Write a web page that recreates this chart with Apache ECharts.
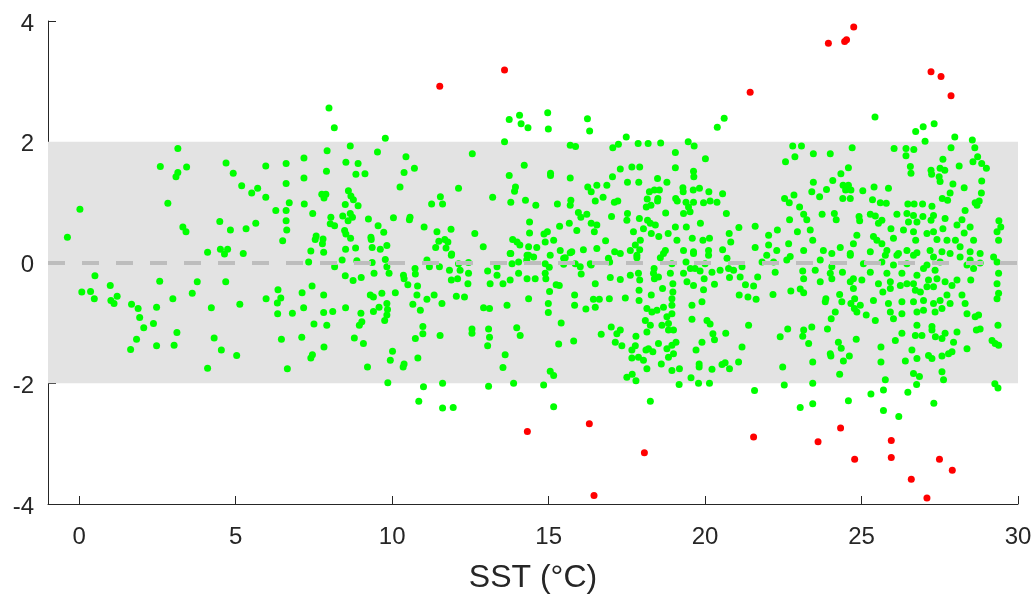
<!DOCTYPE html>
<html>
<head>
<meta charset="utf-8">
<script src="https://cdn.jsdelivr.net/npm/echarts@6/dist/echarts.min.js"></script>
<style>
  html, body { margin: 0; padding: 0; background: #fff; }
  #chart { width: 1034px; height: 598px; }
</style>
</head>
<body>
<div id="chart"></div>
<script>
// SST (°C), residual pairs inside the +-2.6 range (green)
var inRange = [
  [3.15,1.89],[2.59,1.59],[3.43,1.58],[3.15,1.49],[3.09,1.42],[4.69,1.65],[4.92,1.48],[5.96,1.60],[6.61,1.64],[5.19,1.27],
  [5.51,1.15],[5.70,1.23],[5.96,1.08],[6.61,1.31],[6.71,0.99],[2.83,0.98],[0.02,0.88],[-0.38,0.42],[6.28,0.86],[6.61,0.86],
  [6.61,0.69],[6.63,0.54],[6.50,0.36],[4.49,0.68],[4.83,0.54],[5.33,0.56],[5.64,0.65],[3.31,0.59],[3.41,0.51],[4.10,0.17],
  [4.51,0.22],[4.74,0.22],[4.64,0.14],[5.24,0.15],
  [0.50,-0.22],[0.08,-0.49],[0.36,-0.48],[0.48,-0.60],[0.99,-0.38],[1.01,-0.63],[1.21,-0.56],[1.11,-0.68],[1.67,-0.69],[1.88,-0.76],
  [1.93,-0.91],[2.06,-1.08],[2.37,-1.01],[1.83,-1.27],[1.64,-1.44],[2.47,-1.38],[2.47,-0.74],[2.57,-0.31],[2.99,-0.60],[3.12,-1.16],
  [3.03,-1.37],[3.61,-0.51],[3.77,-0.32],[4.22,-0.75],[4.31,-1.25],[4.54,-1.45],[5.03,-1.54],[4.10,-1.75],[4.68,-0.32],[5.13,-0.69],
  [5.97,-0.60],[6.35,-0.45],[6.44,-0.59],[6.33,-0.67],[6.34,-0.85],[6.46,-1.27],[6.65,-1.76],
  [7.98,2.56],[8.15,2.23],[9.78,2.06],[13.74,2.37],[14.07,2.44],[14.12,2.30],[14.34,2.23],[13.59,2.00],[7.18,1.73],[7.18,1.40],
  [7.92,1.85],[7.90,1.51],[8.66,1.93],[8.52,1.66],[8.91,1.64],[8.84,1.46],[9.13,1.47],[9.53,1.83],[10.44,1.75],[10.38,1.49],
  [10.71,1.56],[10.25,1.25],[12.56,1.80],[12.12,1.23],[13.21,1.08],[13.74,1.44],[13.94,1.25],[13.91,1.18],[14.22,1.61],[13.79,1.00],
  [14.26,1.03],[11.54,1.09],[11.26,0.97],[11.61,0.97],[7.75,1.13],[7.88,1.13],[7.82,1.07],[8.60,1.19],[8.68,1.10],[8.76,1.04],
  [8.91,0.94],[8.50,0.96],[7.19,0.97],[7.46,0.81],[8.04,0.75],[8.42,0.77],[8.66,0.81],[8.59,0.69],[8.73,0.75],[8.02,0.64],
  [8.16,0.61],[8.48,0.53],[9.24,0.72],[9.55,0.61],[10.04,0.74],[10.57,0.75],[10.55,0.71],[11.02,0.59],[9.73,0.50],[9.32,0.42],
  [8.52,0.47],[8.67,0.40],[7.57,0.44],[7.79,0.39],[7.77,0.31],[7.54,0.38],[7.40,0.19],[7.81,0.17],[8.51,0.22],[8.83,0.24],
  [9.33,0.38],[9.36,0.25],[9.62,0.22],[9.83,0.28],[11.43,0.51],[11.88,0.55],[11.68,0.38],[11.78,0.34],[11.49,0.35],[11.39,0.25],
  [11.72,0.24],[11.90,0.14],[12.64,0.48],[12.91,0.26],[13.85,0.38],[13.99,0.34],[14.08,0.29],[13.79,0.15],[14.39,0.67],[14.39,0.49],
  [14.36,0.12],
  [14.97,2.48],[14.99,2.21],[16.24,2.38],[16.31,2.18],[17.48,2.08],[20.39,2.24],[20.61,2.39],[15.69,1.94],[15.86,1.92],[17.05,1.90],
  [17.23,1.96],[17.86,1.97],[18.18,1.97],[18.58,1.98],[19.46,2.00],[19.65,1.93],[19.05,1.82],[20.01,1.72],[15.06,1.48],[15.06,1.44],
  [15.69,1.40],[17.29,1.55],[17.66,1.58],[17.91,1.58],[17.04,1.42],[17.52,1.33],[17.88,1.33],[18.48,1.39],[18.78,1.33],[19.05,1.57],
  [19.63,1.51],[19.64,1.42],[16.25,1.25],[16.54,1.28],[16.36,1.17],[16.86,1.28],[18.22,1.17],[18.38,1.20],[18.54,1.20],[19.29,1.24],
  [19.30,1.17],[19.62,1.20],[19.82,1.23],[20.12,1.17],[20.56,1.14],[14.59,0.95],[15.28,0.97],[15.71,1.03],[15.69,0.95],[16.49,1.02],
  [16.74,1.08],[17.10,1.00],[17.21,1.02],[18.15,1.05],[18.12,0.92],[18.27,0.95],[18.49,1.06],[18.48,1.02],[19.06,1.06],[19.11,1.02],
  [19.39,1.00],[19.47,0.92],[19.63,1.00],[19.95,0.99],[20.16,1.02],[20.38,1.00],[15.95,0.83],[16.22,0.80],[16.03,0.75],[17.52,0.81],
  [17.01,0.76],[17.90,0.73],[18.74,0.82],[19.31,0.81],[19.52,0.84],[20.68,0.81],[15.35,0.60],[15.66,0.65],[16.36,0.65],[16.54,0.62],
  [17.50,0.70],[18.16,0.70],[18.25,0.65],[18.41,0.62],[18.03,0.56],[19.05,0.59],[19.40,0.59],[19.85,0.65],[21.08,0.58],[21.60,0.60],
  [14.96,0.51],[14.85,0.47],[15.90,0.53],[16.46,0.51],[16.82,0.36],[15.16,0.37],[14.89,0.34],[17.71,0.51],[17.93,0.37],[17.77,0.29],
  [18.28,0.48],[18.52,0.43],[18.82,0.48],[19.10,0.37],[19.59,0.40],[19.93,0.37],[20.14,0.40],[20.77,0.48],[20.82,0.34],[22.03,0.45],
  [21.60,0.25],[14.36,0.26],[14.62,0.25],[15.37,0.20],[15.74,0.18],[16.11,0.21],[16.54,0.23],[17.11,0.18],[17.61,0.20],[17.91,0.21],
  [18.73,0.20],[19.31,0.20],[19.63,0.18],[20.11,0.20],[20.56,0.21],[15.53,0.08],[16.91,0.07],[17.82,0.08],[18.57,0.08],
  [25.43,2.41],[26.73,2.17],[26.97,2.25],[27.32,2.30],[27.98,2.08],[27.03,2.01],[28.54,2.03],[22.80,1.93],[23.08,1.93],[22.87,1.75],
  [22.57,1.67],[23.46,1.80],[24.00,1.80],[24.70,1.90],[26.04,1.89],[26.42,1.89],[26.67,1.87],[26.42,1.77],[27.86,1.90],[28.62,1.90],
  [27.60,1.71],[28.56,1.67],[28.71,1.75],[28.84,1.64],[28.99,1.56],[28.12,1.60],[26.56,1.59],[26.58,1.48],[27.22,1.53],[27.24,1.46],
  [27.51,1.56],[27.66,1.53],[24.58,1.57],[24.34,1.47],[24.08,1.36],[23.46,1.33],[28.84,1.35],[27.48,1.42],[27.51,1.34],[27.92,1.30],
  [28.28,1.24],[28.83,1.15],[24.41,1.28],[24.58,1.28],[24.49,1.20],[24.66,1.20],[23.88,1.21],[23.41,1.17],[25.40,1.25],[25.86,1.23],
  [25.04,1.19],[27.83,1.15],[22.84,1.12],[23.66,1.09],[24.40,1.06],[24.64,1.06],[22.54,1.06],[22.69,0.99],[23.02,0.92],[25.35,1.04],
  [25.60,0.99],[25.79,0.98],[26.48,0.97],[26.68,0.97],[26.95,0.97],[27.25,0.93],[27.58,1.06],[27.75,1.03],[28.63,0.99],[28.76,1.02],
  [28.69,0.95],[28.31,0.86],[23.15,0.80],[23.74,0.80],[24.13,0.81],[24.19,0.71],[23.25,0.71],[22.70,0.71],[24.92,0.76],[24.94,0.69],
  [25.28,0.80],[25.44,0.77],[25.65,0.70],[25.54,0.65],[26.13,0.80],[26.45,0.81],[26.66,0.78],[26.96,0.76],[27.30,0.78],[26.50,0.67],
  [26.77,0.67],[27.22,0.70],[27.67,0.73],[27.60,0.56],[28.21,0.71],[28.05,0.62],[28.47,0.59],[29.39,0.69],[29.45,0.59],[29.33,0.51],
  [22.31,0.54],[22.95,0.51],[23.36,0.54],[23.44,0.37],[22.67,0.31],[23.78,0.20],[24.32,0.25],[24.85,0.45],[24.74,0.31],[25.38,0.43],
  [25.49,0.37],[25.65,0.31],[25.94,0.56],[26.02,0.40],[26.34,0.54],[26.66,0.51],[26.73,0.37],[27.09,0.48],[27.30,0.51],[27.41,0.38],
  [27.73,0.37],[28.00,0.37],[28.28,0.49],[28.58,0.37],[29.38,0.37],[22.03,0.29],[22.29,0.20],[23.15,0.20],[24.05,0.15],[24.64,0.15],
  [25.28,0.18],[25.81,0.20],[26.13,0.12],[26.45,0.20],[26.77,0.16],[27.19,0.20],[27.57,0.18],[28.15,0.26],[28.47,0.18],[29.22,0.09],
  [21.97,0.12],[22.72,0.10],
  [7.33,0.01],[8.16,-0.07],[8.40,0.04],[8.87,0.03],[9.36,0.00],[9.78,0.05],[9.83,-0.07],[8.50,-0.22],[8.75,-0.30],[9.01,-0.25],
  [9.42,-0.18],[9.90,-0.18],[10.36,-0.21],[10.38,-0.27],[10.73,-0.10],[10.74,-0.19],[11.11,0.04],[11.19,-0.07],[11.51,-0.07],[11.89,0.12],
  [11.83,-0.13],[12.12,-0.02],[12.17,-0.13],[12.09,-0.27],[11.89,-0.29],[12.44,0.00],[12.44,-0.18],[12.42,-0.35],[13.05,-0.14],[13.35,-0.07],
  [13.77,0.15],[13.83,-0.02],[14.04,0.01],[14.31,0.12],[14.31,-0.27],[14.04,-0.18],[13.54,-0.35],[13.77,-0.29],[13.35,-0.21],[13.13,-0.35],
  [10.50,-0.37],[10.81,-0.39],[7.44,-0.39],[7.12,-0.50],[7.81,-0.54],[7.17,-0.75],[6.81,-0.84],[7.11,-1.24],[7.50,-1.02],[7.91,-1.04],
  [7.81,-0.83],[8.10,-0.81],[8.51,-0.75],[7.82,-1.40],[7.45,-1.53],[7.40,-1.58],[8.79,-1.25],[9.08,-1.34],[9.21,-1.73],[8.95,-1.04],
  [9.03,-0.98],[9.00,-0.84],[9.30,-0.54],[9.40,-0.57],[9.67,-0.51],[10.10,-0.50],[9.40,-0.81],[9.58,-0.74],[9.83,-0.68],[9.85,-0.78],
  [9.83,-0.87],[9.76,-0.96],[10.01,-1.47],[9.94,-1.62],[10.38,-1.68],[10.35,-1.73],[9.86,-1.99],[10.82,-1.58],[10.74,-1.26],[10.98,-1.18],
  [10.98,-1.06],[10.66,-0.69],[10.79,-0.54],[10.90,-0.79],[11.11,-0.61],[11.34,-0.54],[11.59,-0.68],[11.53,-1.21],[12.05,-0.56],[12.31,-0.57],
  [12.92,-0.75],[13.11,-0.76],[12.55,-1.10],[12.55,-1.17],[13.08,-1.10],[13.11,-1.24],[13.05,-1.38],[13.67,-0.71],[13.98,-1.08],[14.09,-1.21],
  [13.61,-1.53],[13.54,-1.74],[13.88,-2.00],[13.08,-2.05],[11.61,-2.00],[11.00,-2.06],[10.85,-2.30],[11.61,-2.41],[11.95,-2.40],[14.36,-0.60],
  [14.84,-2.03],[15.16,-2.39],[18.25,-2.30],[19.17,-2.02],[19.55,-1.91],[19.79,-2.00],[20.14,-2.00],[21.58,-2.12],[17.50,-1.90],[17.67,-1.85],
  [17.79,-1.96],[15.05,-1.80],[15.16,-1.87],[15.32,-1.35],[15.80,-1.30],[15.40,-1.00],[14.99,-0.83],[14.99,-0.68],[15.03,-0.48],[15.83,-0.54],
  [15.83,-0.71],[16.19,-0.77],[16.43,-0.61],[16.49,-0.74],[16.62,-0.61],[16.94,-0.60],[17.45,-0.59],[17.89,-0.63],[18.28,-0.54],[16.68,-1.19],
  [17.00,-1.07],[17.18,-1.18],[17.13,-1.32],[17.34,-1.38],[17.79,-1.22],[17.77,-1.38],[17.66,-1.45],[17.66,-1.58],[17.87,-1.57],[18.03,-1.62],
  [18.14,-1.76],[18.11,-1.45],[18.19,-1.43],[18.33,-1.48],[18.51,-1.34],[18.60,-1.68],[18.78,-1.43],[18.83,-1.57],[18.94,-1.37],[18.99,-1.51],
  [19.07,-1.32],[18.94,-1.79],[19.18,-1.76],[18.14,-1.15],[18.25,-1.04],[18.09,-0.96],[18.30,-0.82],[18.14,-0.76],[18.46,-0.79],[18.67,-0.74],
  [18.78,-0.90],[18.94,-0.85],[18.83,-1.01],[18.62,-1.04],[18.83,-1.12],[18.99,-1.12],[18.94,-0.71],[18.94,-0.60],[18.97,-0.49],[18.97,-0.35],
  [18.89,-0.18],[18.64,-0.43],[18.51,-0.24],[18.37,-0.10],[18.38,-0.27],[17.87,-0.18],[17.91,-0.29],[17.89,-0.46],[17.61,-0.21],[17.29,-0.28],
  [16.97,-0.25],[16.95,0.01],[16.49,-0.35],[16.36,-0.04],[16.04,-0.19],[15.85,-0.02],[15.48,-0.03],[15.34,-0.38],[15.02,-0.08],[14.91,-0.27],
  [14.57,-0.27],[14.52,0.09],[15.05,0.12],[19.42,-0.32],[19.31,-0.18],[19.63,-0.38],[19.58,-0.71],[19.58,-0.94],[19.90,-0.65],[19.95,-0.45],
  [20.06,-0.96],[20.16,-1.02],[20.25,-1.18],[20.30,-1.28],[19.90,-1.32],[19.71,-1.45],[19.81,-1.68],[19.81,-1.73],[20.22,-1.77],[20.54,-1.69],
  [20.64,-1.66],[20.78,-1.76],[21.07,-1.65],[21.18,-1.40],[20.66,-1.17],[21.39,-1.04],[21.09,-0.54],[21.37,-0.57],[21.63,-0.61],[21.55,-0.39],
  [21.68,-0.24],[21.29,-0.37],[21.12,-0.24],[20.78,-0.25],[20.75,-0.10],[20.70,0.07],[20.30,-0.36],[19.97,-0.27],[19.84,-0.14],[19.68,-0.10],
  [19.53,-0.10],[20.00,-0.02],[20.22,-0.16],[19.39,0.01],[19.63,0.15],[20.11,0.12],[20.48,-0.13],[20.91,-0.13],[21.18,-0.07],[21.82,0.01],
  [18.67,0.15],[18.35,-0.18],[18.94,-0.02],[17.82,0.12],[17.29,0.15],[16.33,-0.02],[16.01,-0.07],[15.48,0.07],[15.69,0.16],[14.30,0.04],
  [14.89,-0.02],[14.89,-0.18],[15.24,-0.37],[17.29,-1.12],
  [22.53,-2.03],[23.44,-2.00],[23.04,-2.40],[23.44,-2.34],[24.58,-2.29],[25.30,-2.18],[25.70,-2.11],[25.76,-1.94],[25.70,-2.45],[26.19,-2.55],
  [26.48,-2.15],[26.76,-2.02],[27.31,-2.33],[29.36,-2.08],[29.26,-2.01],[22.48,-1.73],[22.40,-1.23],[22.64,-1.10],[23.12,-1.22],[23.31,-1.34],
  [23.44,-1.65],[24.30,-1.85],[24.00,-1.51],[24.02,-1.55],[24.42,-1.63],[24.61,-1.55],[24.26,-1.32],[24.35,-1.42],[24.83,-1.27],[23.91,-1.10],
  [24.03,-0.93],[24.16,-0.82],[23.86,-0.60],[23.84,-0.65],[24.30,-0.53],[22.17,-0.53],[22.74,-0.47],[23.04,-0.44],[23.15,-0.50],[22.24,-0.16],
  [22.19,0.01],[22.61,0.04],[23.12,-0.14],[23.15,-0.27],[23.52,-0.13],[24.00,-0.18],[24.39,-0.16],[24.64,0.12],[23.68,0.04],[24.05,-0.07],
  [24.74,-0.27],[25.01,-0.29],[25.28,-0.16],[25.06,-0.02],[25.65,0.01],[25.81,-0.18],[25.76,0.12],[26.18,0.15],[26.02,-0.04],[26.45,-0.02],
  [26.66,0.12],[27.30,0.09],[27.09,-0.04],[27.51,0.01],[27.83,0.15],[28.15,0.09],[28.37,-0.04],[28.79,0.15],[29.33,0.01],[29.38,-0.18],
  [29.33,-0.35],[29.38,-0.51],[29.33,-0.60],[29.36,-1.04],[29.17,-1.29],[29.27,-1.34],[29.38,-1.37],[28.74,-0.87],[28.63,-0.90],[28.79,-1.10],
  [28.67,-1.12],[28.37,-0.85],[28.31,-0.68],[28.21,-0.54],[28.37,-1.43],[28.05,-1.15],[27.94,-1.32],[27.89,-1.48],[27.78,-1.51],[27.57,-1.55],
  [27.57,-1.81],[27.62,-1.94],[27.25,-1.59],[27.14,-1.54],[26.77,-1.59],[26.40,-1.63],[26.61,-1.45],[26.66,-1.84],[26.85,-1.89],[26.08,-1.29],
  [26.29,-1.17],[26.72,-1.21],[26.93,-1.21],[27.25,-1.12],[27.36,-1.23],[27.57,-1.26],[27.67,-1.17],[27.25,-1.06],[25.62,-1.40],[25.62,-1.65],
  [25.38,-0.63],[25.44,-0.96],[25.15,-0.87],[25.68,-0.49],[25.86,-0.68],[25.92,-0.82],[26.02,-0.93],[26.29,-0.85],[26.29,-0.65],[26.66,-0.65],
  [26.77,-0.82],[26.77,-1.04],[26.98,-0.79],[26.98,-0.63],[27.30,-0.68],[27.35,-0.82],[27.51,-0.63],[27.57,-0.76],[27.73,-0.54],[27.83,-0.68],
  [27.89,-0.38],[28.05,-0.29],[27.30,-0.40],[27.09,-0.40],[26.88,-0.49],[26.66,-0.35],[26.45,-0.35],[26.24,-0.38],[26.72,-0.46],[27.14,-0.29],
  [27.41,-0.27],[27.67,-0.32],[26.77,-0.21],[26.98,-0.10],[27.35,-0.13],[26.29,-0.18],[25.92,-0.32],[25.92,-0.43],[25.54,-0.35],[24.74,-0.43],
  [24.78,-0.60],[24.66,-0.68],[24.77,-0.76],[24.96,-0.71],[24.64,-0.32],[24.05,-0.27],[23.68,-0.32],[24.37,-0.65],[23.15,-1.12],[23.41,-1.07],
  [24.85,-0.82],[28.49,-0.29],[28.58,-0.10],[28.47,0.04],[28.79,-0.01]
];

// outliers (red)
var outliers = [
  [11.52,2.92],[13.59,3.19],[21.44,2.82],[23.94,3.63],[24.46,3.66],[24.52,3.69],[24.75,3.90],[27.22,3.16],[27.54,3.08],[27.86,2.76],
  [14.32,-2.80],[16.30,-2.67],[18.06,-3.15],[16.45,-3.86],[21.55,-2.89],[24.33,-2.74],[23.61,-2.97],[25.95,-2.95],[24.78,-3.26],[25.95,-3.23],
  [27.49,-3.26],[27.90,-3.44],[26.59,-3.59],[27.09,-3.90]
];

var xTicks = [0, 5, 10, 15, 20, 25, 30];
var bandLimits = [-2, 2];

var axisColor = '#262626';
var font = 'Liberation Sans, Arial, Helvetica, sans-serif';

var chart = echarts.init(document.getElementById('chart'), null, { renderer: 'canvas' });
var option = {
  animation: false,
  backgroundColor: '#ffffff',
  grid: {
    left: 48,
    right: 16,
    top: 21,
    bottom: 94,
    containLabel: false,
    outerBoundsMode: 'none'
  },
  xAxis: {
    type: 'value',
    min: -1,
    max: 30,
    name: 'SST (°C)',
    nameLocation: 'middle',
    nameGap: 58,
    nameTextStyle: { color: axisColor, fontSize: 32, fontFamily: font },
    axisLine: { show: true, onZero: false, lineStyle: { color: axisColor, width: 1 } },
    axisTick: { show: true, inside: true, length: 8, customValues: xTicks, lineStyle: { color: axisColor } },
    axisLabel: { show: true, customValues: xTicks, margin: 21, color: axisColor, fontSize: 24, fontFamily: font },
    splitLine: { show: false }
  },
  yAxis: {
    type: 'value',
    min: -4,
    max: 4,
    interval: 2,
    axisLine: { show: true, onZero: false, lineStyle: { color: axisColor, width: 1 } },
    axisTick: { show: true, inside: true, length: 8, lineStyle: { color: axisColor } },
    axisLabel: {
      show: true,
      margin: 14,
      formatter: '{v|{value}}',
      rich: { v: { padding: [6, 0, 0, 0], color: axisColor, fontSize: 24, fontFamily: font } }
    },
    splitLine: { show: false }
  },
  series: [
    {
      name: 'band',
      type: 'line',
      data: [],
      z: 1,
      silent: true,
      markArea: {
        silent: true,
        itemStyle: { color: '#e3e3e3' },
        data: [[{ yAxis: bandLimits[0] }, { yAxis: bandLimits[1] }]]
      },
      markLine: {
        silent: true,
        symbol: ['none', 'none'],
        label: { show: false },
        lineStyle: { color: '#bdbdbd', width: 4, type: [17, 17] },
        data: [{ yAxis: 0 }]
      }
    },
    {
      name: 'in range',
      type: 'scatter',
      z: 3,
      symbolSize: 7,
      itemStyle: { color: '#00ff00', opacity: 1 },
      data: inRange
    },
    {
      name: 'outliers',
      type: 'scatter',
      z: 3,
      symbolSize: 7,
      itemStyle: { color: '#ff0000', opacity: 1 },
      data: outliers
    }
  ]
};
chart.setOption(option);
</script>
</body>
</html>
